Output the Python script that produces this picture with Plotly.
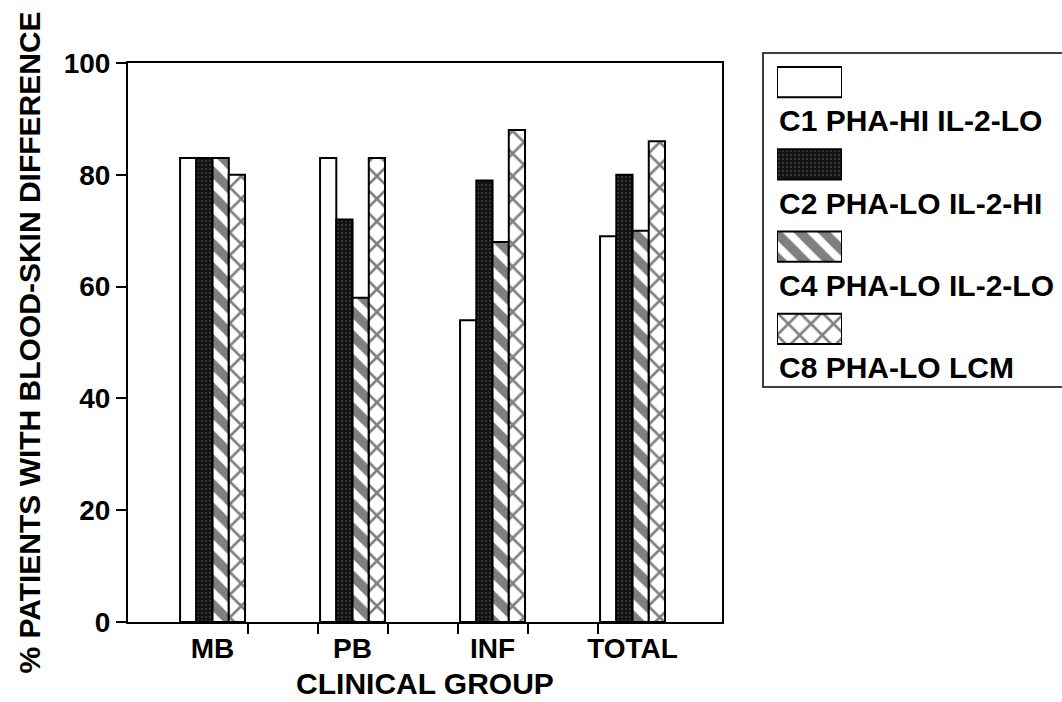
import plotly.graph_objects as go

# Clinical groups on the x axis
groups = ["MB", "PB", "INF", "TOTAL"]

# Series (culture conditions) and their percentages per group
series_names = ["C1 PHA-HI IL-2-LO", "C2 PHA-LO IL-2-HI",
                "C4 PHA-LO IL-2-LO", "C8 PHA-LO LCM"]
c1 = [83, 83, 54, 69]
c2 = [83, 72, 79, 80]
c4 = [83, 58, 68, 70]
c8 = [80, 83, 88, 86]
series_values = [c1, c2, c4, c8]

y_ticks = [0, 20, 40, 60, 80, 100]

W, H = 1062, 702
FONT = "Liberation Sans, Arial, Helvetica, sans-serif"

# fill styles: plain, dark stipple, diagonal hatch, cross hatch
styles = [
    dict(color="white",
         pattern=dict(shape="", bgcolor="white")),
    dict(color="#121212",
         pattern=dict(shape=".", bgcolor="#121212", fgcolor="#5e5e5e",
                      size=4, solidity=0.25)),
    dict(color="white",
         pattern=dict(shape="\\", bgcolor="white", fgcolor="black",
                      size=17, solidity=0.55)),
    dict(color="white",
         pattern=dict(shape="x", bgcolor="white", fgcolor="black",
                      size=16, solidity=0.3)),
]

x_pos = list(range(len(groups)))

fig = go.Figure()

for name, vals, st in zip(series_names, series_values, styles):
    fig.add_trace(go.Bar(
        x=x_pos, y=vals, name=name, showlegend=False,
        marker=dict(color=st["color"], pattern=st["pattern"],
                    line=dict(color="black", width=2)),
        xaxis="x", yaxis="y",
    ))

# key panel: one swatch per series, labels underneath
for i, (name, st) in enumerate(zip(series_names, styles)):
    fig.add_trace(go.Bar(
        x=[1], y=[i], base=0, orientation="h", width=0.37,
        offsetgroup="key", showlegend=False,
        marker=dict(color=st["color"], pattern=st["pattern"],
                    line=dict(color="black", width=2)),
        xaxis="x3", yaxis="y3",
    ))
    fig.add_annotation(
        x=0, y=i + 0.47, xref="x3", yref="y3",
        text=name, showarrow=False, xanchor="left", yanchor="middle",
        font=dict(family=FONT, size=30, color="black", weight="bold"),
    )

# boundary tick marks between groups along the floor
minor_vals = []
for i in range(len(groups) - 1):
    minor_vals += [i + 0.25, i + 0.75]

plot_l, plot_r, plot_t, plot_b = 128, 722, 63, 622

fig.update_layout(
    width=W, height=H,
    margin=dict(l=0, r=0, t=0, b=0, pad=0, autoexpand=False),
    paper_bgcolor="white", plot_bgcolor="white",
    barmode="group", bargap=0.536, bargroupgap=0,
    font=dict(family=FONT, size=28, color="black", weight="bold"),
    xaxis=dict(
        domain=[plot_l / W, plot_r / W], anchor="y", automargin=False,
        range=[-0.604, 3.639],
        tickmode="array", tickvals=x_pos, ticktext=groups, ticks="",
        tickfont=dict(size=28, weight="bold"),
        minor=dict(tickmode="array", tickvals=minor_vals, ticks="outside",
                   ticklen=10, tickwidth=1.5, tickcolor="black"),
        showline=True, linecolor="black", linewidth=2, mirror=True,
        showgrid=False, zeroline=False,
        title=dict(text="CLINICAL GROUP",
                   font=dict(size=30, weight="bold"), standoff=10),
    ),
    yaxis=dict(
        domain=[(H - plot_b) / H, (H - plot_t) / H], anchor="x",
        automargin=False,
        range=[0, 100],
        tickmode="array", tickvals=y_ticks,
        ticks="outside", ticklen=10, tickwidth=1.5, tickcolor="black",
        tickfont=dict(size=28, weight="bold"),
        showline=True, linecolor="black", linewidth=2, mirror=True,
        showgrid=False, zeroline=False,
        title=dict(text="% PATIENTS WITH BLOOD-SKIN DIFFERENCE",
                   font=dict(size=30, weight="bold"), standoff=14),
    ),
    xaxis3=dict(domain=[777 / W, 842 / W], anchor="y3", range=[0, 1],
                visible=False, fixedrange=True),
    yaxis3=dict(domain=[(H - 370) / H, (H - 41) / H], anchor="x3",
                range=[3.5, -0.5], visible=False, fixedrange=True),
    shapes=[
        dict(type="rect", xref="paper", yref="paper",
             x0=763 / W, x1=1.05, y0=(H - 387) / H, y1=(H - 53) / H,
             line=dict(color="black", width=1.5), fillcolor="rgba(0,0,0,0)",
             layer="below"),
    ],
)

fig.write_html("out.html")
